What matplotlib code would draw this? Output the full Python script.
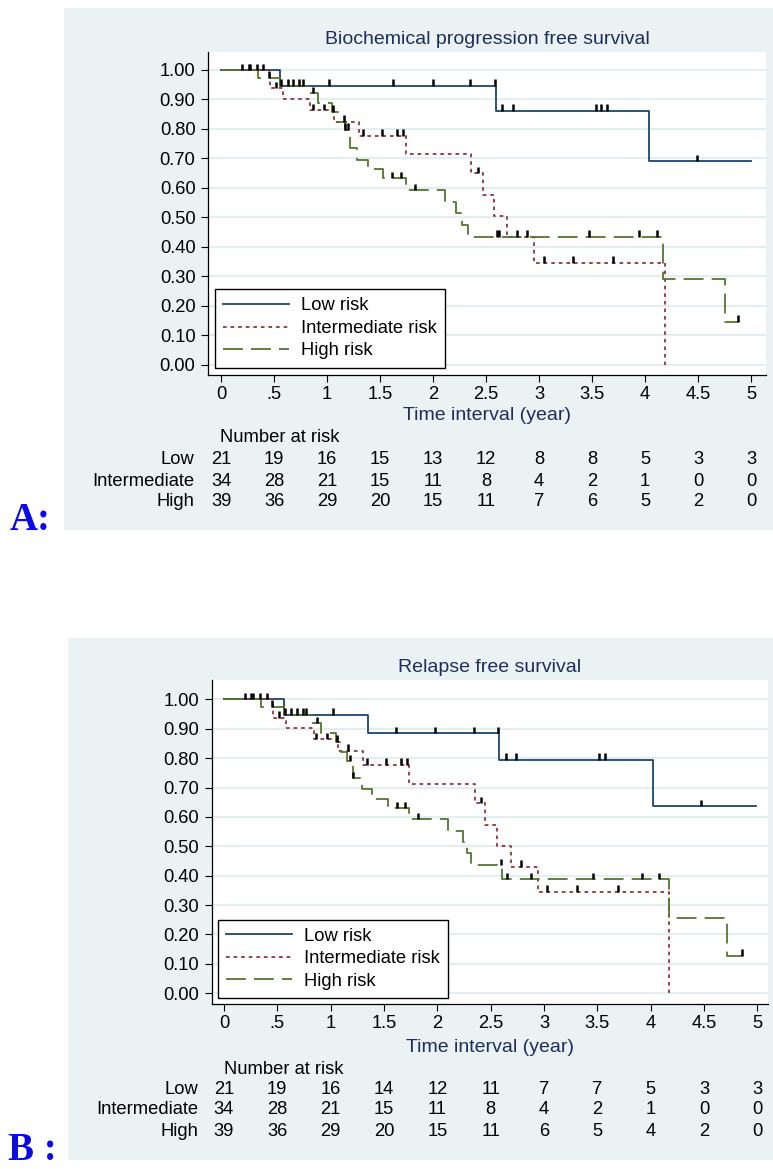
import numpy as np
import matplotlib
matplotlib.use('Agg')
import matplotlib.pyplot as plt
from matplotlib.patches import Rectangle
from matplotlib.transforms import blended_transform_factory

plt.rcParams['font.family'] = ['Liberation Sans', 'DejaVu Sans']

W, H = 773, 1169

# ---- data: panel A (biochemical progression free survival) ----
low_a_t = [0.56, 2.59, 4.04]
low_a_s = [0.947, 0.862, 0.690]
low_a_end = 5.0
low_a_cens = [0.20, 0.26, 0.63, 0.68, 0.735, 0.77, 1.02, 1.62, 2.00, 2.35, 2.58,
              2.65, 2.75, 3.54, 3.58, 3.64, 4.49]

int_a_t = [0.46, 0.58, 0.84, 1.07, 1.30, 1.74, 2.36, 2.47, 2.57, 2.70, 2.95, 4.19]
int_a_s = [0.938, 0.901, 0.864, 0.825, 0.777, 0.714, 0.650, 0.577, 0.505, 0.435, 0.347, 0.0]
int_a_end = 4.19
int_a_cens = [0.27, 0.40, 0.52, 0.865, 0.975, 1.16, 1.34, 1.52, 1.66, 1.72, 2.42, 2.79,
              3.05, 3.32, 3.70]

high_a_t = [0.35, 0.56, 0.82, 0.91, 1.05, 1.10, 1.17, 1.22, 1.28, 1.39, 1.53, 1.74,
            2.11, 2.22, 2.27, 2.33, 4.17, 4.75]
high_a_s = [0.974, 0.947, 0.921, 0.887, 0.859, 0.825, 0.797, 0.737, 0.695, 0.663, 0.633,
            0.593, 0.554, 0.514, 0.475, 0.435, 0.291, 0.146]
high_a_end = 4.88
high_a_cens = [0.34, 0.45, 0.57, 0.865, 1.06, 1.17, 1.20, 1.61, 1.70, 1.83, 2.60, 2.62,
               2.89, 3.47, 3.94, 4.11, 4.88]

risk_low_a = [21, 19, 16, 15, 13, 12, 8, 8, 5, 3, 3]
risk_int_a = [34, 28, 21, 15, 11, 8, 4, 2, 1, 0, 0]
risk_high_a = [39, 36, 29, 20, 15, 11, 7, 6, 5, 2, 0]

# ---- data: panel B (relapse free survival) ----
low_b_t = [0.56, 1.35, 2.58, 4.02]
low_b_s = [0.947, 0.885, 0.794, 0.637]
low_b_end = 4.99
low_b_cens = [0.20, 0.25, 0.63, 0.68, 0.74, 0.77, 1.02, 1.61, 1.98, 2.34, 2.57, 2.64,
              2.74, 3.52, 3.57, 4.47]

int_b_t = [0.46, 0.58, 0.84, 1.07, 1.30, 1.73, 2.35, 2.45, 2.56, 2.69, 2.94, 4.17]
int_b_s = [0.938, 0.901, 0.864, 0.825, 0.777, 0.711, 0.646, 0.574, 0.502, 0.430, 0.345, 0.0]
int_b_end = 4.17
int_b_cens = [0.27, 0.40, 0.52, 0.865, 0.97, 1.16, 1.34, 1.52, 1.66, 1.72, 2.41, 2.78,
              3.03, 3.31, 3.69]

high_b_t = [0.35, 0.56, 0.82, 0.91, 1.05, 1.10, 1.15, 1.21, 1.29, 1.39, 1.54, 1.73,
            2.10, 2.24, 2.28, 2.32, 2.61, 4.17, 4.72]
high_b_s = [0.975, 0.947, 0.918, 0.885, 0.856, 0.822, 0.790, 0.731, 0.694, 0.661, 0.629,
            0.592, 0.553, 0.513, 0.476, 0.436, 0.387, 0.257, 0.127]
high_b_end = 4.87
high_b_cens = [0.34, 0.45, 0.57, 0.87, 1.06, 1.18, 1.21, 1.62, 1.70, 1.82, 2.60, 2.65,
               2.88, 3.46, 3.92, 4.08, 4.86]

risk_low_b = [21, 19, 16, 14, 12, 11, 7, 7, 5, 3, 3]
risk_int_b = [34, 28, 21, 15, 11, 8, 4, 2, 1, 0, 0]
risk_high_b = [39, 36, 29, 20, 15, 11, 6, 5, 4, 2, 0]

groups = ['Low', 'Intermediate', 'High']
legend_labels = ['Low risk', 'Intermediate risk', 'High risk']
x_ticks = [0, 0.5, 1, 1.5, 2, 2.5, 3, 3.5, 4, 4.5, 5]
x_ticklabels = ['0', '.5', '1', '1.5', '2', '2.5', '3', '3.5', '4', '4.5', '5']
y_ticks = [0.0, 0.1, 0.2, 0.3, 0.4, 0.5, 0.6, 0.7, 0.8, 0.9, 1.0]

# ---- style ----
BG = '#eaf2f3'
GRID = '#e4edef'
NAVY = '#1e2d5c'
styles = [
    dict(color='#1a476f', linestyle='-'),
    dict(color='#90353b', dashes=(2.0, 2.2)),
    dict(color='#55752f', dashes=(11, 4.5)),
]
FS = 13.2


def fy(y):
    return 1 - y / H


def draw_panel(fig, p):
    x0, y0, x1, y1 = p['box']
    fig.patches.append(Rectangle((x0 / W, fy(y1)), (x1 - x0) / W, (y1 - y0) / H,
                                 transform=fig.transFigure, facecolor=BG,
                                 edgecolor='none', zorder=-10))
    a0, b0, a1, b1 = p['axes']
    ax = fig.add_axes([a0 / W, fy(b1), (a1 - a0) / W, (b1 - b0) / H])
    ax.set_zorder(2)
    ax.set_facecolor('white')
    for yv in y_ticks:
        ax.axhline(yv, color=GRID, lw=1.5, zorder=0)

    handles = []
    for (t, s, end, cens), st, lab in zip(p['curves'], styles, legend_labels):
        xs = np.r_[0, t, end]
        vals = np.r_[1.0, s]
        ys = np.r_[vals, vals[-1]]
        ln, = ax.step(xs, ys, where='post', lw=1.3, label=lab, zorder=3, **st)
        handles.append(ln)
        cy = vals[np.searchsorted(t, cens, side='right')]
        ax.vlines(cens, cy, cy + 0.022, color='black', lw=1.8, zorder=4)

    ax.set_xlim(p['xlim'])
    ax.set_ylim(p['ylim'])
    ax.set_xticks(x_ticks)
    ax.set_xticklabels(x_ticklabels)
    ax.set_yticks(y_ticks)
    ax.set_yticklabels([f'{v:.2f}' for v in y_ticks])
    ax.tick_params(direction='out', length=5, width=0.8, labelsize=FS, pad=3)
    ax.tick_params(axis='y', pad=4)
    for side in ['top', 'right']:
        ax.spines[side].set_visible(False)
    for side in ['left', 'bottom']:
        ax.spines[side].set_linewidth(0.9)

    leg = ax.legend(handles=handles, loc='lower left', bbox_to_anchor=p['leg'],
                    borderaxespad=0, fontsize=FS, handlelength=3.6,
                    handletextpad=0.65, labelspacing=0.3, borderpad=0.45,
                    fancybox=False, framealpha=1, edgecolor='black')
    leg.get_frame().set_linewidth(1.0)

    xc = (a0 + a1) / 2 / W
    fig.text(xc, fy(p['title_y']), p['title'], ha='center', va='center',
             fontsize=FS + 0.8, color=NAVY)
    fig.text(xc, fy(p['xlabel_y']), 'Time interval (year)', ha='center',
             va='center', fontsize=FS + 0.8, color=NAVY)

    tr = blended_transform_factory(ax.transData, fig.transFigure)
    fig.text((a0 + 12) / W, fy(p['nar_y']), 'Number at risk', ha='left',
             va='center', fontsize=FS)
    for name, counts, ry in zip(groups, p['risk'], p['rows_y']):
        fig.text(p['rowlab_x'] / W, fy(ry), name, ha='right', va='center',
                 fontsize=FS)
        for xt, n in zip(x_ticks, counts):
            ax.text(xt, fy(ry), str(n), transform=tr, ha='center', va='center',
                    fontsize=FS)

    fig.text(p['letter_xy'][0] / W, fy(p['letter_xy'][1]), p['letter'],
             ha='left', va='center', fontsize=28, fontweight='bold',
             color='#0a0ae6', family=['Liberation Serif', 'DejaVu Serif'])
    return ax


fig = plt.figure(figsize=(W / 100, H / 100), dpi=100)

panel_a = dict(
    box=(64, 8, 773, 530), axes=(208, 52, 766, 375),
    xlim=(-0.123, 5.14), ylim=(-0.034, 1.061),
    curves=[(low_a_t, low_a_s, low_a_end, low_a_cens),
            (int_a_t, int_a_s, int_a_end, int_a_cens),
            (high_a_t, high_a_s, high_a_end, high_a_cens)],
    risk=[risk_low_a, risk_int_a, risk_high_a],
    title='Biochemical progression free survival', title_y=40,
    xlabel_y=415, nar_y=438, rows_y=[459, 481, 502], rowlab_x=194,
    leg=(0.0125, 0.0226), letter='A:', letter_xy=(10, 521),
)
panel_b = dict(
    box=(68, 638, 773, 1160), axes=(211.7, 680, 768, 1004),
    xlim=(-0.115, 5.10), ylim=(-0.037, 1.066),
    curves=[(low_b_t, low_b_s, low_b_end, low_b_cens),
            (int_b_t, int_b_s, int_b_end, int_b_cens),
            (high_b_t, high_b_s, high_b_end, high_b_cens)],
    risk=[risk_low_b, risk_int_b, risk_high_b],
    title='Relapse free survival', title_y=667,
    xlabel_y=1047, nar_y=1070, rows_y=[1089, 1110, 1131], rowlab_x=198,
    leg=(0.011, 0.0185), letter='B :', letter_xy=(8, 1150),
)

draw_panel(fig, panel_a)
draw_panel(fig, panel_b)

fig.savefig('out.png', dpi=100, facecolor='white')
